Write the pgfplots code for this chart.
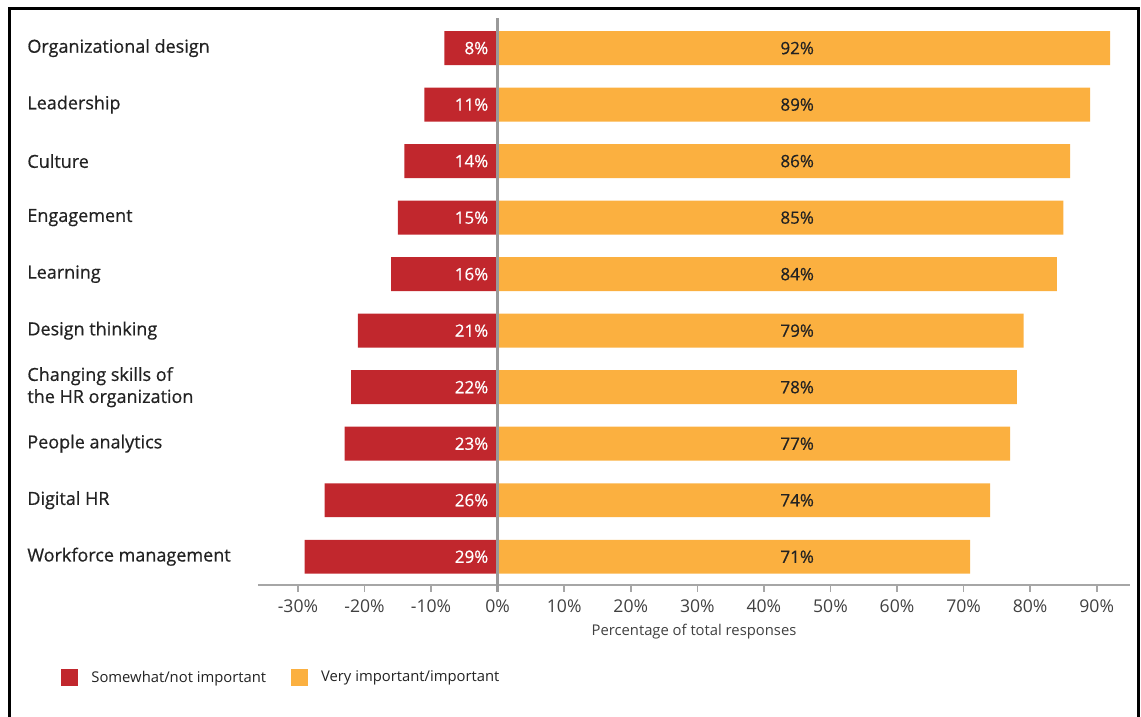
\documentclass[border=0pt]{standalone}
\usepackage{fontspec}
\setmainfont{Open Sans}
\newfontfamily\labfont[FakeBold=0.6]{Open Sans}
\usepackage{pgfplots}
\pgfplotsset{compat=1.18}
\definecolor{redc}{HTML}{C1272D}
\definecolor{orc}{HTML}{FBB040}
\definecolor{axgray}{HTML}{A6A6A6}
\definecolor{zgray}{HTML}{9A9A9A}
\definecolor{tickc}{HTML}{404040}
\definecolor{labc}{HTML}{222222}
\begin{document}
\begin{tikzpicture}
\useasboundingbox (-129pt,-66pt) rectangle (441.5pt,292.5pt);
\draw[line width=1.5pt, black] (-124pt,-67pt) -- (-124pt,288pt) -- (440pt,288pt) -- (440pt,-67pt);
\begin{axis}[
 at={(0pt,0pt)}, anchor=south west,
 scale only axis, width=436pt, height=282.6pt,
 xmin=-36, xmax=95, ymin=-0.5, ymax=9.5,
 clip=false,
 axis x line*=bottom, axis y line*=left,
 x axis line style={-, draw=axgray, line width=1pt},
 y axis line style={draw=none},
 xtick={-30,-20,...,90},
 xtick align=outside, major tick length=3.5pt,
 xtick style={axgray, line width=0.8pt},
 ytick={0,...,9}, ytick style={draw=none},
 yticklabels={Workforce management, Digital HR, People analytics, {Changing skills of\\the HR organization}, Design thinking, Learning, Engagement, Culture, Leadership, Organizational design},
 yticklabel style={anchor=west, align=left, inner sep=0pt, xshift=-115.5pt, font=\labfont\fontsize{9}{11}\selectfont, text=labc},
 /pgf/number format/assume math mode=true,
 xticklabel={\pgfmathprintnumber{\tick}\%},
 xticklabel style={font=\fontsize{8.8}{10}\selectfont, text=tickc, yshift=-0.5pt},
 xlabel={Percentage of total responses},
 xlabel style={font=\fontsize{7.4}{9}\selectfont, text=tickc, yshift=1.5pt},
 bar width=0.6,
 legend style={at={(-0.2328,-0.1645)}, anchor=west, draw=none, fill=none, font=\fontsize{7.4}{9}\selectfont, text=labc, legend columns=2,
   /tikz/every odd column/.append style={column sep=4.5pt},
   /tikz/every even column/.append style={column sep=10.5pt}},
 legend cell align=left,
]
\addplot[xbar, bar shift=0pt, fill=redc, draw=none, legend image code/.code={\fill[redc] (0pt,-4.25pt) rectangle (8.5pt,4.25pt);}]
 coordinates {(-29,0) (-26,1) (-23,2) (-22,3) (-21,4) (-16,5) (-15,6) (-14,7) (-11,8) (-8,9)};
\addlegendentry{Somewhat/not important}
\addplot[xbar, bar shift=0pt, fill=orc, draw=none, legend image code/.code={\fill[orc] (0pt,-4.25pt) rectangle (8.5pt,4.25pt);}]
 coordinates {(71,0) (74,1) (77,2) (78,3) (79,4) (84,5) (85,6) (86,7) (89,8) (92,9)};
\addlegendentry{Very important/important}
\addplot[forget plot, draw=none, mark=none, nodes near coords, point meta=explicit symbolic,
 nodes near coords style={anchor=east, inner sep=0pt, text=white, font=\labfont\fontsize{8.5}{10}\selectfont}]
 coordinates {(-1.35,0) [29\%] (-1.35,1) [26\%] (-1.35,2) [23\%] (-1.35,3) [22\%] (-1.35,4) [21\%] (-1.35,5) [16\%] (-1.35,6) [15\%] (-1.35,7) [14\%] (-1.35,8) [11\%] (-1.35,9) [8\%]};
\addplot[forget plot, draw=none, mark=none, nodes near coords, point meta=explicit symbolic,
 nodes near coords style={anchor=center, inner sep=0pt, text=labc, font=\labfont\fontsize{8.5}{10}\selectfont}]
 coordinates {(45,0) [71\%] (45,1) [74\%] (45,2) [77\%] (45,3) [78\%] (45,4) [79\%] (45,5) [84\%] (45,6) [85\%] (45,7) [86\%] (45,8) [89\%] (45,9) [92\%]};
\draw[zgray, line width=1.5pt] (axis cs:0,-0.62) -- (axis cs:0,9.53);
\end{axis}
\end{tikzpicture}
\end{document}
